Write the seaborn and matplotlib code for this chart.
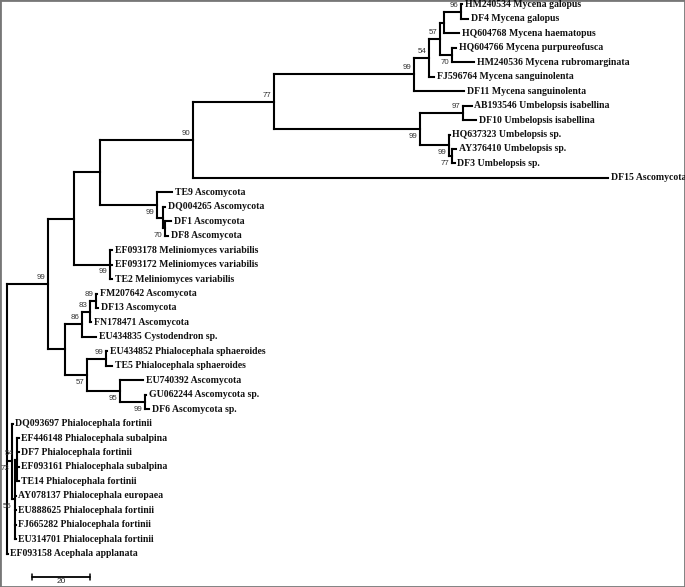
"""
Phylogenetic tree (bootstrap values on nodes) - recreated with seaborn
"""

import numpy as np
import pandas as pd
import matplotlib
matplotlib.use('Agg')
import matplotlib.pyplot as plt
import seaborn as sns

# ---- tree data: node id, parent, branch length (scale units), bootstrap ----
node_id = [
    'root', 'A', 'B', 'D', 'E', 'F', 'M', 'M1', 'M2', 'M3', 'M5',
    'HM240534 Mycena galopus', 'DF4 Mycena galopus', 'HQ604768 Mycena haematopus',
    'M4', 'HQ604766 Mycena purpureofusca', 'HM240536 Mycena rubromarginata',
    'FJ596764 Mycena sanguinolenta', 'DF11 Mycena sanguinolenta',
    'U', 'U1', 'AB193546 Umbelopsis isabellina', 'DF10 Umbelopsis isabellina',
    'U2', 'HQ637323 Umbelopsis sp.', 'U3', 'AY376410 Umbelopsis sp.', 'DF3 Umbelopsis sp.',
    'DF15 Ascomycota',
    'T', 'TE9 Ascomycota', 'T1', 'DQ004265 Ascomycota', 'T2', 'DF1 Ascomycota', 'DF8 Ascomycota',
    'Mel', 'EF093178 Meliniomyces variabilis', 'EF093172 Meliniomyces variabilis',
    'TE2 Meliniomyces variabilis',
    'C', 'C1', 'C1a', 'C1b', 'FM207642 Ascomycota', 'DF13 Ascomycota', 'FN178471 Ascomycota',
    'EU434835 Cystodendron sp.',
    'C2', 'C3', 'EU434852 Phialocephala sphaeroides', 'TE5 Phialocephala sphaeroides',
    'C4', 'EU740392 Ascomycota', 'C5', 'GU062244 Ascomycota sp.', 'DF6 Ascomycota sp.',
    'G1', 'DQ093697 Phialocephala fortinii', 'G2', 'G3',
    'EF446148 Phialocephala subalpina', 'DF7 Phialocephala fortinii',
    'EF093161 Phialocephala subalpina', 'TE14 Phialocephala fortinii',
    'AY078137 Phialocephala europaea', 'EU888625 Phialocephala fortinii',
    'FJ665282 Phialocephala fortinii', 'EU314701 Phialocephala fortinii',
    'EF093158 Acephala applanata',
]
parent_id = [
    None, 'root', 'A', 'B', 'D', 'E', 'F', 'M', 'M1', 'M2', 'M3',
    'M5', 'M5', 'M3',
    'M2', 'M4', 'M4',
    'M1', 'M',
    'F', 'U', 'U1', 'U1',
    'U', 'U2', 'U2', 'U3', 'U3',
    'E',
    'D', 'T', 'T', 'T1', 'T1', 'T2', 'T2',
    'B', 'Mel', 'Mel', 'Mel',
    'A', 'C', 'C1', 'C1a', 'C1b', 'C1b', 'C1a',
    'C1',
    'C', 'C2', 'C3', 'C3',
    'C2', 'C4', 'C4', 'C5', 'C5',
    'root', 'G1', 'G1', 'G2',
    'G3', 'G3', 'G3', 'G3',
    'G2', 'G2', 'G2', 'G2',
    'root',
]
branch_length = [
    0.0, 14.1, 9.0, 9.0, 32.1, 27.9, 48.3, 5.2, 3.8, 1.4, 5.9,
    0.3, 2.4, 5.2,
    4.1, 1.4, 7.6,
    1.7, 17.2,
    50.3, 14.8, 3.1, 4.5,
    10.0, 0.3, 1.0, 1.4, 1.0,
    143.1,
    19.7, 5.2, 2.1, 0.7, 0.7, 2.1, 1.0,
    12.4, 0.7, 0.7, 0.7,
    5.9, 5.9, 2.8, 2.1, 0.3, 0.7, 0.3,
    4.8,
    7.6, 6.6, 0.3, 2.1,
    11.4, 7.9, 8.6, 0.3, 1.4,
    1.7, 0.3, 1.0, 0.7,
    0.7, 0.7, 0.7, 0.7,
    0.3, 0.3, 0.3, 0.3,
    0.3,
]
bootstrap = {
    'A': 99, 'E': 90, 'F': 77, 'M': 99, 'M1': 54, 'M2': 57, 'M5': 96, 'M4': 70,
    'U': 99, 'U1': 97, 'U2': 99, 'U3': 77, 'T': 99, 'T2': 70, 'Mel': 99,
    'C1': 86, 'C1a': 83, 'C1b': 89, 'C2': 57, 'C3': 99, 'C4': 95, 'C5': 99,
    'G1': 73, 'G2': 56, 'G3': 54,
}
# bootstrap values written under the branch instead of above
bootstrap_below = ['M4', 'U', 'U2', 'U3', 'T', 'T2', 'Mel', 'C2', 'C4', 'C5', 'G1', 'G2']

scale_length = 20


def layout_tree():
    """x = cumulative branch length, y = leaf order / midpoint of children"""
    children = {n: [] for n in node_id}
    for n, p in zip(node_id, parent_id):
        if p is not None:
            children[p].append(n)
    bl = dict(zip(node_id, branch_length))
    pos_x, pos_y = {}, {}
    leaf_counter = [0]

    def walk(n, x):
        pos_x[n] = x
        if not children[n]:
            pos_y[n] = leaf_counter[0]
            leaf_counter[0] += 1
            return
        for c in children[n]:
            walk(c, x + bl[c])
        pos_y[n] = (pos_y[children[n][0]] + pos_y[children[n][-1]]) / 2

    walk('root', 0.0)
    return children, pos_x, pos_y


children, pos_x, pos_y = layout_tree()

# segments for the branches
rows = []
seg = 0
for n, p in zip(node_id, parent_id):
    if p is not None:
        rows += [(seg, pos_x[p], pos_y[n]), (seg, pos_x[n], pos_y[n])]
        seg += 1
    if children[n]:
        first, last = children[n][0], children[n][-1]
        rows += [(seg, pos_x[n], pos_y[first]), (seg, pos_x[n], pos_y[last])]
        seg += 1
seg_df = pd.DataFrame(rows, columns=['seg', 'x', 'y'])

sns.set_style('white')
plt.rcParams['font.family'] = ['Liberation Serif', 'DejaVu Serif']

fig = plt.figure(figsize=(6.85, 5.87), dpi=100)
ax = fig.add_axes([0, 0, 1, 1])

sns.lineplot(data=seg_df, x='x', y='y', units='seg', estimator=None, sort=False,
             color='black', linewidth=1.5, solid_capstyle='projecting',
             legend=False, ax=ax)

# leaf labels
for n in node_id:
    if not children[n]:
        ax.text(pos_x[n] + 0.9, pos_y[n], n, fontsize=7.0, fontweight='bold',
                va='center', ha='left', color='#111111')

# bootstrap values
for n, v in bootstrap.items():
    dy = 0.5 if n in bootstrap_below else -0.45
    ax.text(pos_x[n] - 1.0, pos_y[n] + dy, str(v), fontsize=5.7,
            family=['Liberation Sans', 'DejaVu Sans'], color='#333333',
            va='center', ha='right')

# scale bar
sb_x0 = 8.6
sb_y = 39.62
ax.plot([sb_x0, sb_x0 + scale_length], [sb_y, sb_y], color='black', linewidth=1.3)
for xx in (sb_x0, sb_x0 + scale_length):
    ax.plot([xx, xx], [sb_y - 0.2, sb_y + 0.2], color='black', linewidth=1.1)
ax.text(sb_x0 + scale_length / 2, sb_y + 0.33, str(scale_length), fontsize=6.0,
        family=['Liberation Sans', 'DejaVu Sans'], ha='center', va='center')

ax.set_xlim(-2.41, 233.8)
ax.set_ylim(40.31, -0.31)
ax.set_xticks([])
ax.set_yticks([])
ax.set_xlabel('')
ax.set_ylabel('')
for s in ax.spines.values():
    s.set_visible(True)
    s.set_color('#777777')
    s.set_linewidth(2)

fig.savefig('out.png', dpi=100)
plt.close(fig)
